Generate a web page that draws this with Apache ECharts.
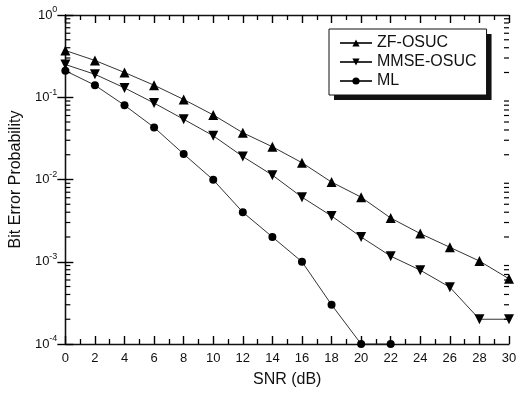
<!DOCTYPE html>
<html><head><meta charset="utf-8">
<script src="https://cdn.jsdelivr.net/npm/echarts@6/dist/echarts.min.js"></script>
<style>html,body{margin:0;padding:0;background:#fff}#c{width:521px;height:393px}</style>
</head><body><div id="c"></div>
<script>
var snr = [0,2,4,6,8,10,12,14,16,18,20,22,24,26,28,30];
var zfOsuc = [0.37,0.28,0.20,0.14,0.094,0.061,0.037,0.025,0.016,0.0093,0.0061,0.0034,0.0022,0.0015,0.00102,0.00062];
var mmseOsuc = [0.25,0.19,0.13,0.085,0.054,0.034,0.019,0.0113,0.0061,0.0036,0.0020,0.00117,0.00079,0.00049,0.0002,0.0002];
var mlSnr = [0,2,4,6,8,10,12,14,16,18,20,22];
var ml = [0.21,0.14,0.08,0.043,0.0204,0.0099,0.004,0.002,0.001,0.0003,0.0001,0.0001];
var legendNames = ['ZF-OSUC','MMSE-OSUC','ML'];
var minorVals = [];
[-4,-3,-2,-1].forEach(function(e){for(var k=2;k<=9;k++){minorVals.push(k*Math.pow(10,e));}});

function pairs(xs, ys){return xs.map(function(x,i){return [x, ys[i]];});}
var font = 'Liberation Sans, Arial, sans-serif';
var chart = echarts.init(document.getElementById('c'));
var lineStyle = {color:'#333', width:1};
function tick(len){return {show:true, inside:true, length:len, lineStyle:{color:'#000', width:1.4}};}
function minor(){return {show:true, splitNumber:2, length:5, lineStyle:{color:'#000', width:1.3}};}
var legendBase = {
  orient:'vertical', top:29, left:329,
  padding:[6,10,6,10], itemGap:3, itemWidth:32, itemHeight:9,
  textStyle:{fontFamily:font, fontSize:16, color:'#111'},
  data:legendNames, selectedMode:false
};
chart.setOption({
  animation:false,
  grid:{left:63, right:12, top:15, bottom:49},
  legend:[
    Object.assign({}, legendBase, {
      left:334, top:34, z:1,
      backgroundColor:'#111', borderWidth:0,
      textStyle:{fontFamily:font, fontSize:16, color:'rgba(0,0,0,0)'},
      itemStyle:{opacity:0}, lineStyle:{opacity:0}
    }),
    Object.assign({}, legendBase, {
      z:3, backgroundColor:'#fff', borderColor:'#111', borderWidth:1
    })
  ],
  xAxis:[{
    type:'value', min:0, max:30, interval:2,
    name:'SNR (dB)', nameLocation:'middle', nameGap:28,
    nameTextStyle:{fontFamily:font, fontSize:16, color:'#111'},
    axisLine:{lineStyle:{color:'#111', width:1.3}},
    axisTick:tick(8), minorTick:minor(),
    axisLabel:{fontFamily:font, fontSize:13, color:'#111', margin:8},
    splitLine:{show:false}
  },{
    type:'value', min:0, max:30, interval:2, position:'top',
    axisLine:{lineStyle:{color:'#111', width:1.3}},
    axisTick:tick(8), minorTick:minor(),
    axisLabel:{show:false}, splitLine:{show:false}
  }],
  yAxis:[{
    type:'log', logBase:10, min:1e-4, max:1, interval:1,
    name:'Bit Error Probability', nameLocation:'middle', nameGap:33,
    nameTextStyle:{fontFamily:font, fontSize:16, color:'#111'},
    axisLine:{show:true, lineStyle:{color:'#111', width:1.3}},
    axisTick:tick(8),
    axisLabel:{fontFamily:font, fontSize:13, color:'#111', margin:8,
      formatter:function(v){var e=Math.round(Math.log10(v));return '10{s|'+e+'}';},
      rich:{s:{fontFamily:font, fontSize:9, color:'#111', verticalAlign:'top', padding:[0,0,10,0]}}},
    splitLine:{show:false}
  },{
    type:'log', logBase:10, min:1e-4, max:1, interval:1, position:'right',
    axisLine:{show:true, lineStyle:{color:'#111', width:1.3}},
    axisTick:tick(8),
    axisLabel:{show:false}, splitLine:{show:false}
  }],
  series:[
    {name:'ZF-OSUC', type:'line', data:pairs(snr, zfOsuc), symbol:'triangle', symbolSize:10,
     itemStyle:{color:'#000'}, lineStyle:lineStyle, z:4},
    {name:'MMSE-OSUC', type:'line', data:pairs(snr, mmseOsuc), symbol:'triangle', symbolRotate:180, symbolSize:10,
     itemStyle:{color:'#000'}, lineStyle:lineStyle, z:4},
    {name:'ML', type:'line', data:pairs(mlSnr, ml), symbol:'circle', symbolSize:8,
     itemStyle:{color:'#000'}, lineStyle:lineStyle, z:4},
    {type:'custom', silent:true, xAxisIndex:0, yAxisIndex:0, clip:false,
     data:minorVals.map(function(v){return [0, v];}),
     renderItem:function(params, api){
       var pl = api.coord([0, api.value(1)]);
       var pr = api.coord([30, api.value(1)]);
       return {type:'group', children:[
         {type:'line', shape:{x1:pl[0], y1:pl[1], x2:pl[0]+5, y2:pl[1]}, style:{stroke:'#000', lineWidth:1.2}},
         {type:'line', shape:{x1:pr[0], y1:pr[1], x2:pr[0]-5, y2:pr[1]}, style:{stroke:'#000', lineWidth:1.2}}
       ]};
     }, z:5}
  ]
});
</script></body></html>
